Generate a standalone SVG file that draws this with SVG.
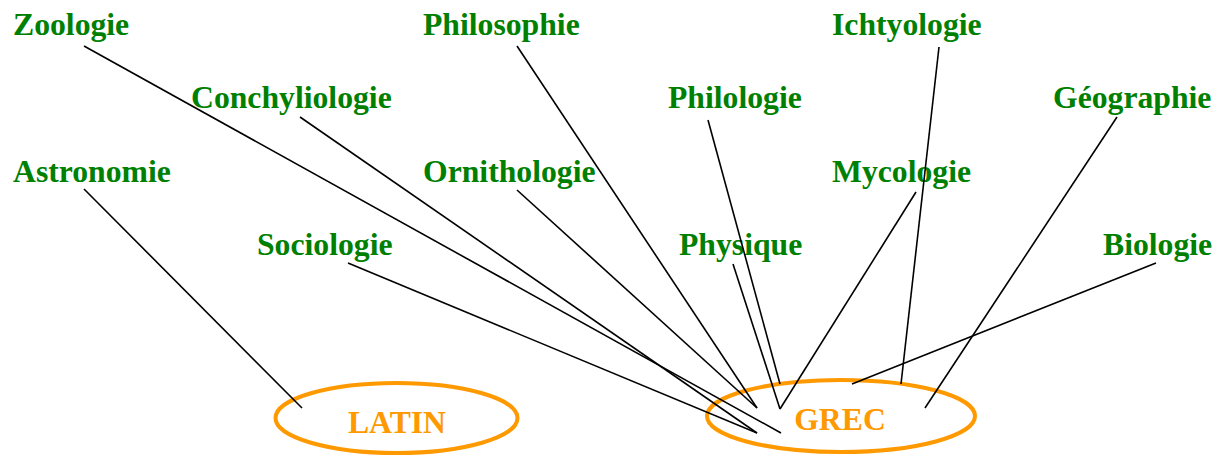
<svg xmlns="http://www.w3.org/2000/svg" width="1226" height="457" viewBox="0 0 1226 457">
<style>
.t{font-family:"Liberation Serif","Times New Roman",serif;font-weight:bold;font-size:31.7px;fill:#008000}
.o{font-family:"Liberation Serif","Times New Roman",serif;font-weight:bold;font-size:31.7px;fill:#FF9900;text-anchor:middle}
.e{fill:none;stroke:#FF9900;stroke-width:4}
.c line{stroke:#000;stroke-width:1.6}
</style>
<rect width="1226" height="457" fill="#fff"/>
<g id="n-zoologie"><text class="t" x="13" y="35">Zoologie</text></g>
<g id="n-philosophie"><text class="t" x="423" y="35">Philosophie</text></g>
<g id="n-ichtyologie"><text class="t" x="832" y="35">Ichtyologie</text></g>
<g id="n-conchyliologie"><text class="t" x="191" y="108">Conchyliologie</text></g>
<g id="n-philologie"><text class="t" x="668" y="108">Philologie</text></g>
<g id="n-geographie"><text class="t" x="1053" y="108">Géographie</text></g>
<g id="n-astronomie"><text class="t" x="13" y="182">Astronomie</text></g>
<g id="n-ornithologie"><text class="t" x="423" y="182">Ornithologie</text></g>
<g id="n-mycologie"><text class="t" x="832" y="182">Mycologie</text></g>
<g id="n-sociologie"><text class="t" x="257" y="255">Sociologie</text></g>
<g id="n-physique"><text class="t" x="679" y="255">Physique</text></g>
<g id="n-biologie"><text class="t" x="1103" y="255">Biologie</text></g>
<g id="n-latin"><ellipse class="e" cx="396.5" cy="418" rx="121" ry="35"/><text class="o" x="397" y="433">LATIN</text></g>
<g id="n-grec"><ellipse class="e" cx="841" cy="416" rx="134" ry="36"/><text class="o" x="840" y="430">GREC</text></g>
<g id="connectors" class="c">
<line x1="84" y1="46" x2="781" y2="433"/>
<line x1="300" y1="117" x2="757" y2="433"/>
<line x1="348" y1="263" x2="757" y2="433"/>
<line x1="84" y1="189" x2="302" y2="408"/>
<line x1="517" y1="46" x2="757" y2="408"/>
<line x1="517" y1="190" x2="757" y2="408"/>
<line x1="708" y1="120" x2="780" y2="384"/>
<line x1="733" y1="264" x2="780" y2="409"/>
<line x1="916" y1="192" x2="780" y2="409"/>
<line x1="939" y1="47" x2="901" y2="384"/>
<line x1="1117" y1="117" x2="925" y2="408"/>
<line x1="1156" y1="263" x2="852" y2="384"/>
</g>
</svg>
